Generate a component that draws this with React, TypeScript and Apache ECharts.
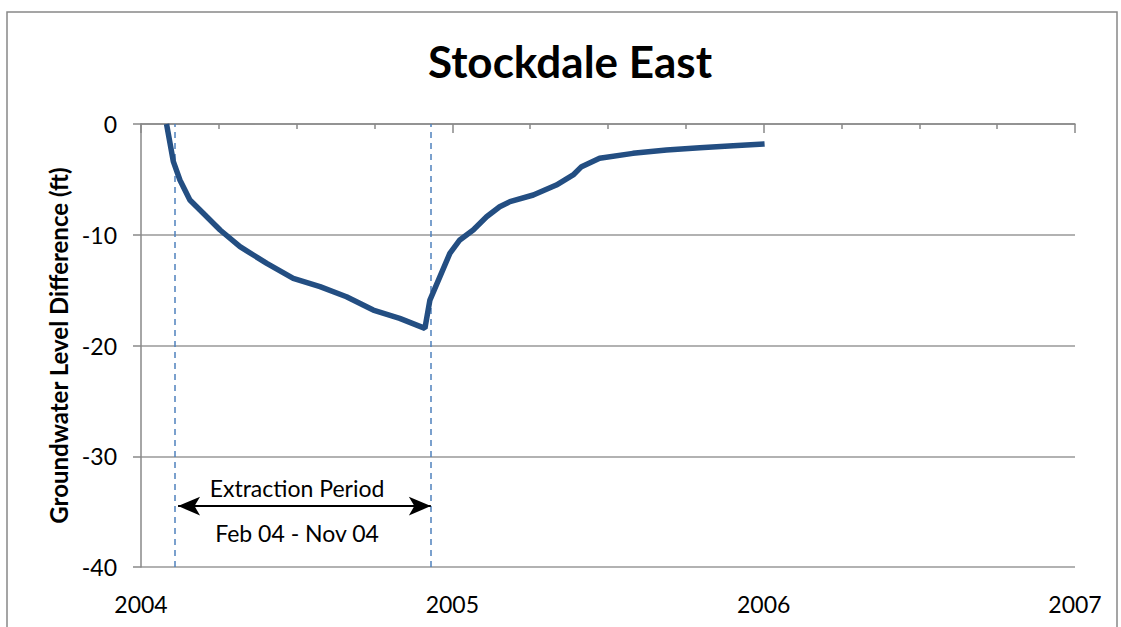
import React, { useEffect, useRef } from "react";
import * as echarts from "echarts";

const years = [2004.082, 2004.104, 2004.125, 2004.157, 2004.2, 2004.254, 2004.318, 2004.404, 2004.489, 2004.575, 2004.66, 2004.746, 2004.831, 2004.912, 2004.928, 2004.992, 2005.024, 2005.067, 2005.11, 2005.152, 2005.185, 2005.26, 2005.334, 2005.388, 2005.415, 2005.473, 2005.58, 2005.688, 2005.795, 2005.902, 2006.003];
const levels = [0, -3.4, -5.06, -6.86, -8.06, -9.57, -11.08, -12.58, -13.93, -14.69, -15.6, -16.8, -17.55, -18.45, -15.9, -11.68, -10.47, -9.57, -8.37, -7.47, -7.01, -6.41, -5.51, -4.6, -3.85, -3.1, -2.65, -2.35, -2.14, -1.96, -1.8];
const extractionBounds = [2004.106, 2004.934];
const arrowSpan = [2004.119, 2004.931];
const arrowLevel = -34.5;
const title = "Stockdale East";
const yName = "Groundwater Level Difference (ft)";
const annotTop = "Extraction Period";
const annotBottom = "Feb 04 - Nov 04";

const FONT = "Lato, 'Open Sans', sans-serif";

export default function App() {
  const ref = useRef<HTMLDivElement>(null);
  useEffect(() => {
    if (!ref.current) return;
    const chart = echarts.init(ref.current, null, { renderer: "svg" });
    chart.setOption({
      animation: false,
      backgroundColor: "#fff",
      title: {
        text: title,
        left: 423,
        top: 34,
        textStyle: { fontFamily: FONT, fontSize: 44, fontWeight: "bold", color: "#000" },
      },
      grid: { left: 141, right: 46, top: 124, bottom: 60 },
      xAxis: {
        type: "value",
        min: 2004,
        max: 2007,
        interval: 1,
        axisLine: { show: true, lineStyle: { color: "#888", width: 1.5 } },
        axisTick: { show: true, length: 9, lineStyle: { color: "#888", width: 1.5 } },
        minorTick: { show: true, splitNumber: 4, length: 5, lineStyle: { color: "#888", width: 1.5 } },
        splitLine: { show: false },
        axisLabel: { fontFamily: FONT, fontSize: 23, color: "#000", margin: 25, formatter: (v: number) => String(Math.round(v)) },
      },
      yAxis: {
        type: "value",
        min: -40,
        max: 0,
        interval: 10,
        name: yName,
        nameLocation: "middle",
        nameGap: 71,
        nameTextStyle: { fontFamily: FONT, fontSize: 24, fontWeight: "bold", color: "#000" },
        axisLine: { show: true, lineStyle: { color: "#888", width: 1.5 } },
        axisTick: { show: true, length: 8, lineStyle: { color: "#888", width: 1.5 } },
        splitLine: { show: true, lineStyle: { color: "#999", width: 1.5 } },
        axisLabel: { fontFamily: FONT, fontSize: 23, color: "#000", margin: 24 },
      },
      series: [
        {
          type: "line",
          data: years.map((y, i) => [y, levels[i]]),
          showSymbol: false,
          lineStyle: { color: "#234e82", width: 5.5 },
          z: 5,
          markLine: {
            silent: true,
            symbol: ["none", "none"],
            label: { show: false },
            lineStyle: { color: "#4f81bd", type: [6, 5], width: 1.5 },
            data: extractionBounds.map((x) => ({ xAxis: x })),
          },
        },
        {
          type: "line",
          data: [],
          markLine: {
            silent: true,
            symbol: ["arrow", "arrow"],
            symbolSize: [14, 22],
            label: { show: false },
            lineStyle: { color: "#000", type: "solid", width: 2 },
            data: [[{ coord: [arrowSpan[0], arrowLevel] }, { coord: [arrowSpan[1], arrowLevel] }]],
          },
        },
      ],
      graphic: [
        {
          type: "rect",
          shape: { x: 7, y: 12, width: 1110, height: 630 },
          style: { fill: "none", stroke: "#888", lineWidth: 1.5 },
          silent: true,
        },
        {
          type: "text",
          x: 297,
          y: 488,
          style: { text: annotTop, font: `23px ${FONT}`, fill: "#000", textAlign: "center", textVerticalAlign: "middle" },
        },
        {
          type: "text",
          x: 297,
          y: 533,
          style: { text: annotBottom, font: `23px ${FONT}`, fill: "#000", textAlign: "center", textVerticalAlign: "middle" },
        },
      ],
    });
    return () => chart.dispose();
  }, []);
  return <div ref={ref} style={{ position: "absolute", left: 0, top: 0, width: 1121, height: 627 }} />;
}
